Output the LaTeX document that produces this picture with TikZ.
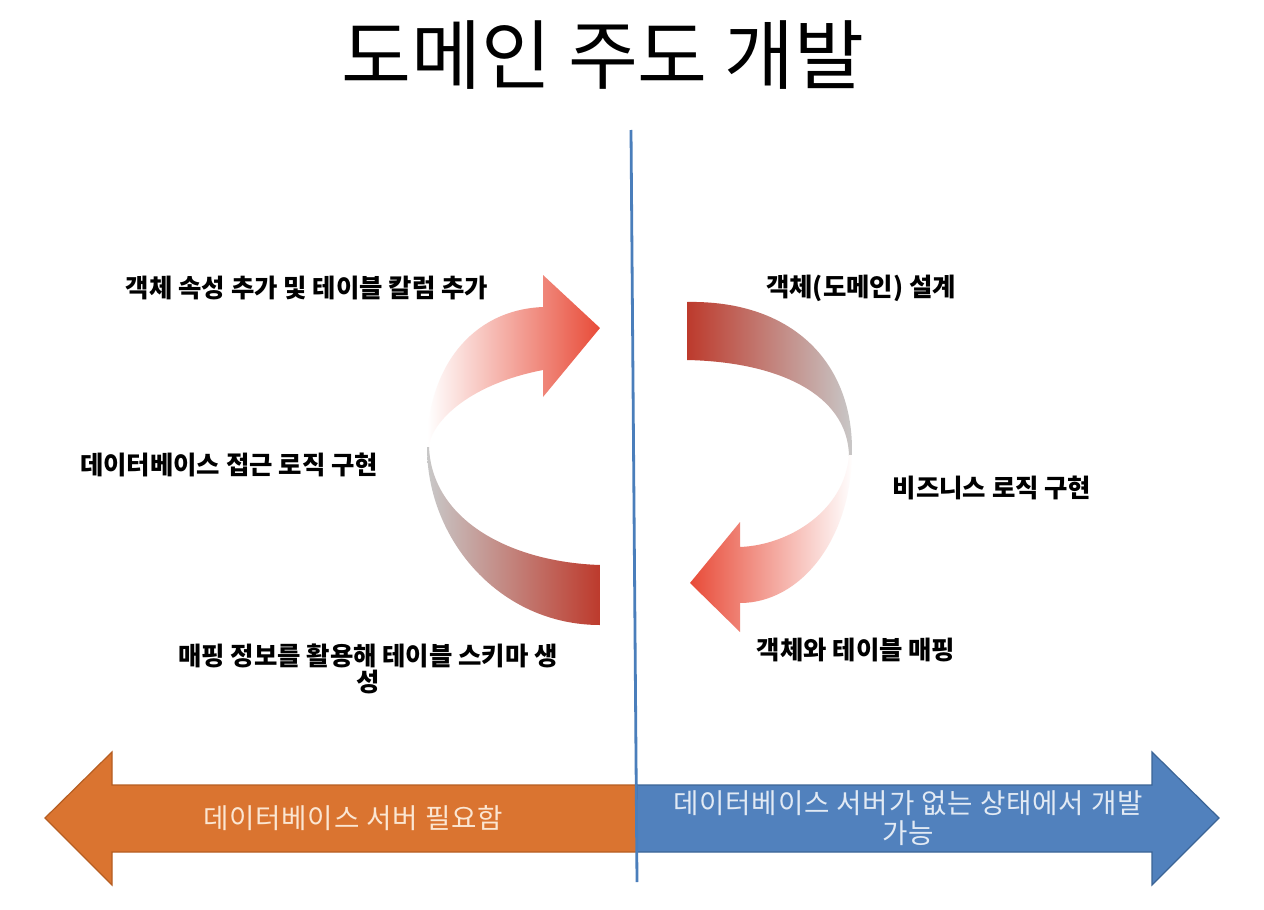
\documentclass[tikz,border=0pt]{standalone}
\usepackage{fontspec}
\newfontfamily\krtitle{Noto Sans CJK KR}
\newfontfamily\krlbl{Noto Sans CJK KR}
\newfontfamily\krbar[LetterSpace=3]{Noto Sans CJK KR}
\definecolor{cRedDark}{HTML}{BD3A2C}
\definecolor{cRedHead}{HTML}{E84B38}
\definecolor{cGray}{HTML}{C8C8C8}
\definecolor{cOrange}{HTML}{DA7430}
\definecolor{cOrangeLine}{HTML}{B65E22}
\definecolor{cOrangeText}{HTML}{FBE6D2}
\definecolor{cBlue}{HTML}{5181BD}
\definecolor{cBlueLine}{HTML}{3B6496}
\definecolor{cBlueText}{HTML}{E2EAF4}
\definecolor{cVLine}{HTML}{4A7EBB}
\begin{document}
\begin{tikzpicture}[x=0.5pt,y=-0.5pt,
  lbl/.style={font=\krlbl\bfseries\fontsize{12.7}{14}\selectfont, text=black, inner sep=0pt, align=center},
  ttl/.style={font=\krtitle\fontsize{38}{40}\selectfont, text=black, inner sep=0pt},
  bartext/.style={font=\krbar\fontsize{13.8}{16}\selectfont, inner sep=0pt, align=center},
  orangebar/.style={fill=cOrange, draw=cOrangeLine, line width=0.6pt},
  bluebar/.style={fill=cBlue, draw=cBlueLine, line width=0.6pt},
  vline/.style={draw=cVLine, line width=1.4pt}]
\useasboundingbox (0,0) rectangle (1264,910);
\fill[white] (0,0) rectangle (1264,910);

% title
\node[ttl] (title) at (603,55) {도메인 주도 개발};

% left circular arrow
\begin{scope}
\clip (600,625) .. controls (500,625) and (427,540) .. (427,447)
      .. controls (427,370) and (470,310) .. (543,307)
      -- (543,275) -- (600,328) -- (543,397) -- (543,370)
      .. controls (465,385) and (430,425) .. (429,447)
      .. controls (432,520) and (510,562) .. (600,565) -- cycle;
\shade[left color=white, right color=cRedHead] (427,260) rectangle (600,447);
\shade[left color=cGray, right color=cRedDark] (427,447) rectangle (600,640);
\end{scope}

% right circular arrow
\begin{scope}
\clip (687,302) .. controls (790,300) and (852,360) .. (852,450)
      .. controls (852,540) and (800,603) .. (740,603)
      -- (740,632) -- (690,583) -- (740,522) -- (740,547)
      .. controls (790,545) and (845,510) .. (849,455)
      .. controls (847,395) and (780,362) .. (687,360) -- cycle;
\shade[left color=cRedDark, right color=cGray] (687,290) rectangle (853,455);
\shade[left color=cRedHead, right color=white] (690,455) rectangle (853,640);
\end{scope}

% labels
\node[lbl] (l1) at (307,288) {객체 속성 추가 및 테이블 칼럼 추가};
\node[lbl] (l2) at (229,465) {데이터베이스 접근 로직 구현};
\node[lbl] (l3) at (368,669) {매핑 정보를 활용해 테이블 스키마 생\\[-1pt]성};
\node[lbl] (r1) at (861,288) {객체(도메인) 설계};
\node[lbl] (r2) at (992,488) {비즈니스 로직 구현};
\node[lbl] (r3) at (856,650) {객체와 테이블 매핑};

% bottom arrows
\path[orangebar] (637,785) -- (112,785) -- (112,752) -- (45,818) -- (112,885) -- (112,852) -- (637,852) -- cycle;
\path[bluebar] (637,785) -- (1152,785) -- (1152,752) -- (1219,818) -- (1152,885) -- (1152,852) -- (637,852) -- cycle;
\node[bartext, text=cOrangeText] (otext) at (353,818) {데이터베이스 서버 필요함};
\node[bartext, text=cBlueText] (btext) at (908,818) {데이터베이스 서버가 없는 상태에서 개발\\[-1pt]가능};

% vertical divider
\coordinate (ltop) at (631,130);
\coordinate (lbot) at (637,882);
\draw[vline] (ltop) -- (lbot);
\end{tikzpicture}
\end{document}
